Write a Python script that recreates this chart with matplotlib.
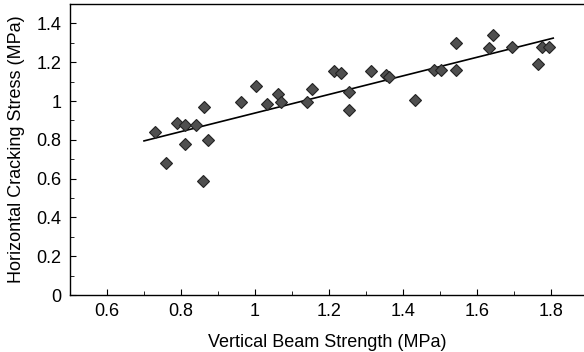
import matplotlib
matplotlib.use('Agg')
import matplotlib.pyplot as plt
from matplotlib.ticker import MultipleLocator
import numpy as np

plt.rcParams.update({
    'font.family': 'Liberation Sans',
    'font.size': 13,
})

# measured points (vertical beam strength, horizontal cracking stress), MPa
beam_strength = [0.731, 0.760, 0.790, 0.812, 0.812, 0.841, 0.862, 0.872, 0.860,
                 0.963, 1.003, 1.033, 1.063, 1.070, 1.140, 1.153, 1.214, 1.233,
                 1.253, 1.253, 1.314, 1.353, 1.363, 1.433, 1.484, 1.504, 1.543,
                 1.543, 1.633, 1.644, 1.695, 1.764, 1.775, 1.795]
cracking_stress = [0.840, 0.680, 0.888, 0.878, 0.777, 0.878, 0.968, 0.797, 0.589,
                   0.994, 1.076, 0.986, 1.037, 0.994, 0.996, 1.063, 1.155, 1.145,
                   1.045, 0.955, 1.153, 1.136, 1.122, 1.003, 1.162, 1.162, 1.298,
                   1.160, 1.271, 1.340, 1.280, 1.189, 1.280, 1.280]

# fitted trend line
fit_slope = 0.479
fit_intercept = 0.459
fit_x = [0.70, 1.806]

fig = plt.figure(figsize=(5.84, 3.52), dpi=100)
# the original is cropped on the right, so the axes run to the figure edge
ax = fig.add_axes([70 / 584, 57 / 352, 514 / 584, 291 / 352])

ax.plot(beam_strength, cracking_stress, linestyle='none', marker='D',
        markersize=6.6, markerfacecolor='#4f4f4f', markeredgecolor='#222222',
        markeredgewidth=0.8, zorder=3)
fx = np.array(fit_x)
ax.plot(fx, fit_slope * fx + fit_intercept, color='black', linewidth=1.2, zorder=2)

ax.set_xlim(0.5, 0.5 + 514 / 370)
ax.set_ylim(0, 1.5)
ax.xaxis.set_minor_locator(MultipleLocator(0.1))
ax.yaxis.set_minor_locator(MultipleLocator(0.1))
ax.set_xticks([0.6, 0.8, 1.0, 1.2, 1.4, 1.6, 1.8])
ax.set_xticklabels(['0.6', '0.8', '1', '1.2', '1.4', '1.6', '1.8'])
ax.set_yticks([0, 0.2, 0.4, 0.6, 0.8, 1.0, 1.2, 1.4])
ax.set_yticklabels(['0', '0.2', '0.4', '0.6', '0.8', '1', '1.2', '1.4'])
ax.tick_params(which='both', direction='in', top=False, right=False)
ax.tick_params(which='major', length=4, width=0.8, pad=6)
ax.tick_params(which='minor', length=3, width=0.6)
ax.spines['right'].set_visible(False)
for side in ['left', 'top', 'bottom']:
    ax.spines[side].set_linewidth(1.0)

ax.set_xlabel('Vertical Beam Strength (MPa)', labelpad=10)
ax.set_ylabel('Horizontal Cracking Stress (MPa)', labelpad=8)

fig.savefig('out.png', dpi=100)
